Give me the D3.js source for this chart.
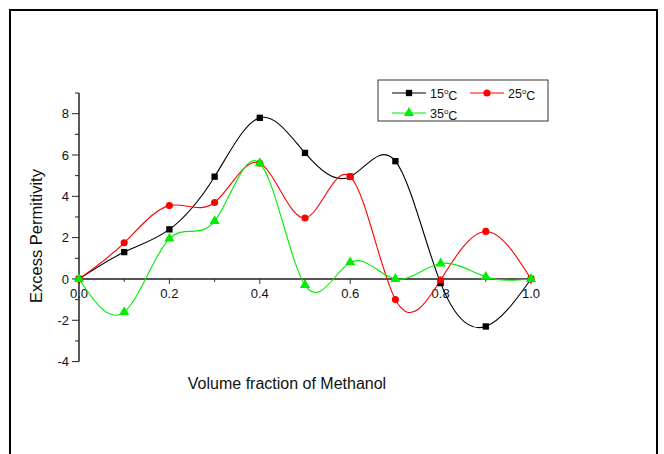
<!DOCTYPE html>
<html>
<head>
<meta charset="utf-8">
<script src="https://cdn.jsdelivr.net/npm/d3@7"></script>
<style>
  body { margin: 0; background: #fff; }
  svg text { font-family: "Liberation Sans", Arial, sans-serif; fill: #111; }
</style>
</head>
<body>
<svg id="chart" width="664" height="454"></svg>
<script>
const fractions = [0.0, 0.1, 0.2, 0.3, 0.4, 0.5, 0.6, 0.7, 0.8, 0.9, 1.0];
const t15 = [0, 1.3, 2.4, 4.95, 7.8, 6.1, 4.95, 5.7, -0.2, -2.3, 0];
const t25 = [0, 1.75, 3.55, 3.7, 5.6, 2.95, 4.95, -1.0, -0.05, 2.3, 0];
const t35 = [0, -1.6, 1.95, 2.8, 5.6, -0.3, 0.8, 0.0, 0.75, 0.1, 0];
const xTicks = [0, 0.2, 0.4, 0.6, 0.8, 1.0];
const yTicks = [-4, -2, 0, 2, 4, 6, 8];

const series = [
    {label: '15', values: t15, color: '#000000', marker: 'square'},
    {label: '25', values: t25, color: '#ff0000', marker: 'circle'},
    {label: '35', values: t35, color: '#00ee00', marker: 'triangle'}
];

const svg = d3.select('#chart');

// outer frame
svg.append('rect')
    .attr('x', 10).attr('y', 10)
    .attr('width', 647).attr('height', 460)
    .style('fill', 'none').style('stroke', '#000').style('stroke-width', 2);

let x = d3.scaleLinear().domain([0, 1]).range([79, 531]);
let y = d3.scaleLinear().domain([-4, 9]).range([361.6, 93]);

// y axis
let yAxis = svg.append('g').attr('transform', `translate(${x(0)},0)`);
yAxis.append('line')
    .attr('y1', y(9)).attr('y2', y(-4))
    .style('stroke', '#222').style('stroke-width', 1.5);
yAxis.selectAll('.ytick')
    .data(d3.range(-4, 10, 1))
    .enter().append('line')
        .attr('x1', 0)
        .attr('x2', d => d % 2 == 0 ? -7 : -4)
        .attr('y1', d => y(d)).attr('y2', d => y(d))
        .style('stroke', '#222').style('stroke-width', 1);
yAxis.selectAll('.ylabel')
    .data(yTicks)
    .enter().append('text')
        .attr('x', -10)
        .attr('y', d => y(d))
        .attr('dy', '0.36em')
        .attr('text-anchor', 'end')
        .style('font-size', '13px')
        .text(d => d);

// x axis at y = 0
let xAxis = svg.append('g').attr('transform', `translate(0,${y(0)})`);
xAxis.append('line')
    .attr('x1', x(0)).attr('x2', x(1))
    .style('stroke', '#555').style('stroke-width', 2);
xAxis.selectAll('.xtick')
    .data(d3.range(0, 11).map(i => i / 10))
    .enter().append('line')
        .attr('x1', d => x(d)).attr('x2', d => x(d))
        .attr('y1', 0)
        .attr('y2', (d, i) => i % 2 == 0 ? 5 : 3)
        .style('stroke', '#333').style('stroke-width', 1);
xAxis.selectAll('.xlabel')
    .data(xTicks)
    .enter().append('text')
        .attr('x', d => x(d))
        .attr('y', 19)
        .attr('text-anchor', 'middle')
        .style('font-size', '13px')
        .text(d => d3.format('.1f')(d));

// axis titles
svg.append('text')
    .attr('transform', `translate(42,236) rotate(-90)`)
    .attr('text-anchor', 'middle')
    .style('font-size', '16.5px')
    .text('Excess Permitivity');

svg.append('text')
    .attr('x', 287).attr('y', 389)
    .attr('text-anchor', 'middle')
    .style('font-size', '16px')
    .text('Volume fraction of Methanol');

const symbols = {
    square: d3.symbol().type(d3.symbolSquare).size(40),
    circle: d3.symbol().type(d3.symbolCircle).size(40),
    triangle: d3.symbol().type(d3.symbolTriangle).size(45)
};

let line = d3.line()
    .x((d, i) => x(fractions[i]))
    .y(d => y(d))
    .curve(d3.curveNatural);

let plot = svg.append('g');
series.forEach(s => {
    plot.append('path')
        .attr('d', line(s.values))
        .style('fill', 'none')
        .style('stroke', s.color)
        .style('stroke-width', 1.1);
});
series.forEach(s => {
    plot.selectAll(null)
        .data(s.values)
        .enter().append('path')
            .attr('transform', (d, i) => `translate(${x(fractions[i])},${y(d)})`)
            .attr('d', symbols[s.marker]())
            .style('fill', s.color);
});

// legend
let legend = svg.append('g');
legend.append('rect')
    .attr('x', 378).attr('y', 80)
    .attr('width', 170).attr('height', 41)
    .style('fill', '#fff').style('stroke', '#333').style('stroke-width', 1);

const legendPos = [[392, 93], [470, 93], [392, 113]];
series.forEach((s, i) => {
    let [lx, ly] = legendPos[i];
    let g = legend.append('g').attr('transform', `translate(${lx},${ly})`);
    g.append('line')
        .attr('x1', 0).attr('x2', 34)
        .style('stroke', s.color).style('stroke-width', 1.1);
    g.append('path')
        .attr('transform', 'translate(17,0)')
        .attr('d', symbols[s.marker]())
        .style('fill', s.color);
    let t = g.append('text')
        .attr('x', 38).attr('dy', '0.38em')
        .style('font-size', '12.5px');
    t.append('tspan').text(s.label);
    t.append('tspan').attr('dy', '-0.5em').style('font-size', '8px').text('o');
    t.append('tspan').attr('dy', '0.5em').text('C');
});
</script>
</body>
</html>
